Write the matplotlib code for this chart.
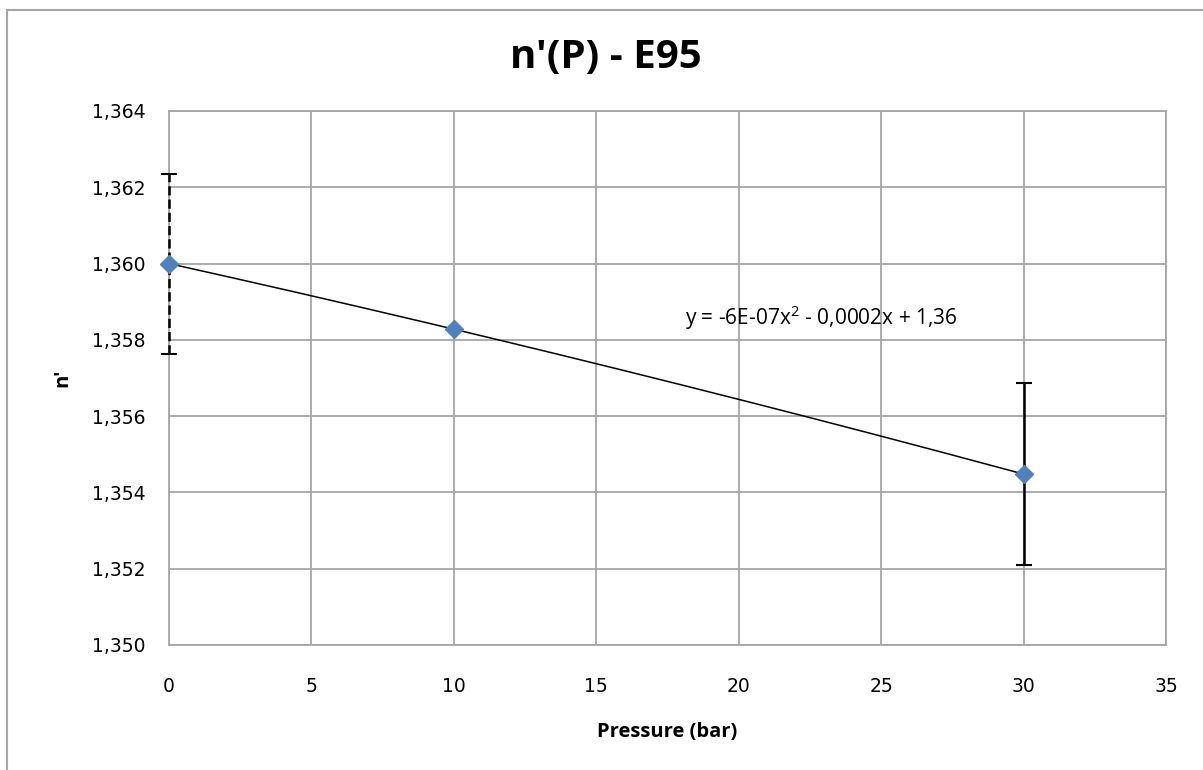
import numpy as np
import matplotlib.pyplot as plt
from matplotlib.ticker import FuncFormatter
from matplotlib.patches import Rectangle

# data
pressure = [0, 10, 30]
n_index = [1.3600, 1.35828, 1.35448]
n_err = [0.00236, 0.0, 0.00238]
err_style = ['--', None, '-']
x_ticks = [0, 5, 10, 15, 20, 25, 30, 35]
y_ticks = [1.350, 1.352, 1.354, 1.356, 1.358, 1.360, 1.362, 1.364]
equation = 'y = -6E-07x$^2$ - 0,0002x + 1,36'

plt.rcParams['font.family'] = ['DejaVu Sans']
plt.rcParams['mathtext.default'] = 'regular'

fig = plt.figure(figsize=(12.03, 7.70), dpi=100)
ax = fig.add_axes([169/1203, 1-645/770, (1166-169)/1203, (645-111)/770])

# outer chart border
fig.add_artist(Rectangle((7/1203, -0.2), 1.5, 1.2 - 10/770, transform=fig.transFigure,
                         fill=False, edgecolor='#a6a6a6', linewidth=1.5))

# polynomial trendline
coef = np.polyfit(pressure, n_index, 2)
xs = np.linspace(min(pressure), max(pressure), 200)
ax.plot(xs, np.polyval(coef, xs), color='black', linewidth=1.1, zorder=3, clip_on=False)

# error bars
for x, y, e, ls in zip(pressure, n_index, n_err, err_style):
    if e > 0:
        eb = ax.errorbar(x, y, yerr=e, fmt='none', ecolor='black', elinewidth=1.8,
                         capsize=6, capthick=1.5, zorder=4)
        eb[2][0].set_linestyle(ls)
        eb[2][0].set_clip_on(False)
        for c in eb[1]:
            c.set_clip_on(False)

ax.plot(pressure, n_index, linestyle='none', marker='D', markersize=9,
        color='#4f81bd', zorder=5, clip_on=False)

ax.text(18.1, 1.35857, equation, fontsize=15, family='Open Sans', va='center', ha='left')

ax.set_xlim(0, 35)
ax.set_ylim(1.350, 1.364)
ax.set_xticks(x_ticks)
ax.set_yticks(y_ticks)
ax.yaxis.set_major_formatter(FuncFormatter(lambda v, p: f'{v:.3f}'.replace('.', ',')))
ax.tick_params(length=0, labelsize=13.5, colors='black')
ax.tick_params(axis='y', pad=17)
ax.tick_params(axis='x', pad=23)
ax.grid(True, color='#a6a6a6', linewidth=1.3)
ax.set_axisbelow(True)
for s in ax.spines.values():
    s.set_color('#a6a6a6')
    s.set_linewidth(1.3)

fig.text(606/1203, 1-58/770, "n'(P) - E95", fontsize=29, fontweight='bold',
         family='Open Sans', ha='center', va='center')
fig.text(667/1203, 1-732/770, 'Pressure (bar)', fontsize=14.5, fontweight='bold',
         family='Open Sans', ha='center', va='center')
fig.text(62/1203, 1-378/770, "n'", fontsize=14.5, fontweight='bold',
         family='Open Sans', ha='center', va='center', rotation=90)

fig.savefig('out.png', dpi=100)
